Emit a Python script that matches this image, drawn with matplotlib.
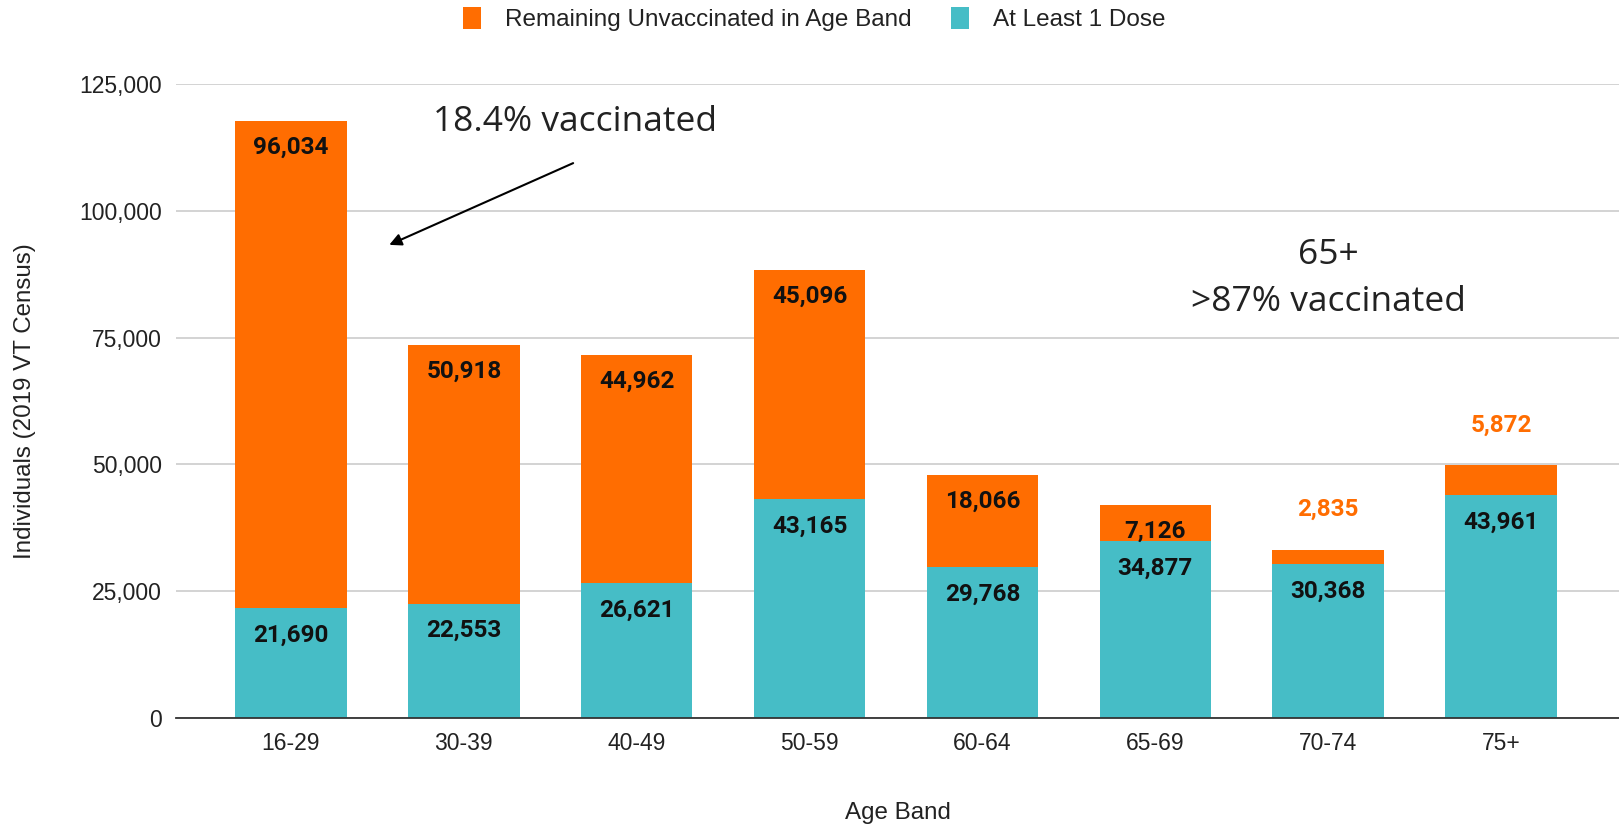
#!/usr/bin/env python3
"""Vaccination status by age band (stacked bars)."""
import numpy as np
import matplotlib.pyplot as plt
from matplotlib.ticker import FuncFormatter

age_bands = ['16-29', '30-39', '40-49', '50-59', '60-64', '65-69', '70-74', '75+']
at_least_1_dose = [21690, 22553, 26621, 43165, 29768, 34877, 30368, 43961]
unvaccinated = [96034, 50918, 44962, 45096, 18066, 7126, 2835, 5872]
# bars whose orange segment is too thin for an inside label
outside_label = [False, False, False, False, False, False, True, True]

ORANGE = '#ff6d01'
TEAL = '#46bdc6'

fig = plt.figure(figsize=(16.19, 8.25), dpi=100)
ax = fig.add_axes([0.1087, 0.1297, 0.8913, 0.7685])

x = np.arange(len(age_bands))
w = 0.645
teal_bars = ax.bar(x, at_least_1_dose, width=w, color=TEAL, label='At Least 1 Dose', zorder=2)
orange_bars = ax.bar(x, unvaccinated, width=w, bottom=at_least_1_dose, color=ORANGE,
                     label='Remaining Unvaccinated in Age Band', zorder=2)

lab_font = dict(family=['Roboto', 'DejaVu Sans'], fontsize=17.5, fontweight='bold')
for i in range(len(age_bands)):
    ax.annotate(f'{at_least_1_dose[i]:,}', (x[i], at_least_1_dose[i]), xytext=(0, -19.5),
                textcoords='offset points', ha='center', va='center', color='#111111', **lab_font)
    top = at_least_1_dose[i] + unvaccinated[i]
    if outside_label[i]:
        ax.annotate(f'{unvaccinated[i]:,}', (x[i], top), xytext=(0, 29),
                    textcoords='offset points', ha='center', va='center', color=ORANGE, **lab_font)
    else:
        ax.annotate(f'{unvaccinated[i]:,}', (x[i], top), xytext=(0, -19),
                    textcoords='offset points', ha='center', va='center', color='#111111', **lab_font)

ax.set_xlim(-0.665, 7.682)
ax.set_ylim(0, 125000)
ax.set_yticks([0, 25000, 50000, 75000, 100000, 125000])
ax.yaxis.set_major_formatter(FuncFormatter(lambda v, p: f'{int(v):,}'))
ax.grid(axis='y', color='#cccccc', linewidth=1.2, zorder=0)
for s in ['top', 'right', 'left']:
    ax.spines[s].set_visible(False)
ax.spines['bottom'].set_color('#333333')
ax.spines['bottom'].set_linewidth(1.3)
ax.spines['bottom'].set_zorder(3)
ax.set_xticks(x)
ax.set_xticklabels(age_bands)
tick_font = ['Liberation Sans', 'DejaVu Sans']
for t in ax.get_xticklabels() + ax.get_yticklabels():
    t.set_family(tick_font)
    t.set_fontsize(16.5)
    t.set_color('#222222')
ax.tick_params(axis='both', length=0)
ax.tick_params(axis='x', pad=10)
ax.tick_params(axis='y', pad=10)

ax.set_xlabel('Age Band', family=tick_font, fontsize=17.4, color='#222222', labelpad=34)
ax.set_ylabel('Individuals (2019 VT Census)', family=tick_font, fontsize=17.4, color='#222222', labelpad=31.5)

# annotations
note_font = dict(family=['Open Sans', 'DejaVu Sans'], fontsize=25.5, color='#222222')
ax.text(1.641, 117500, '18.4% vaccinated', ha='center', va='center', **note_font)
ax.annotate('', xy=(0.554, 93060), xytext=(1.647, 109620),
            arrowprops=dict(arrowstyle='-|>', color='black', lw=1.5, mutation_scale=18))
ax.text(6.0, 91290, '65+', ha='center', va='center', **note_font)
ax.text(6.0, 82020, '>87% vaccinated', ha='center', va='center', **note_font)

handles = [orange_bars, teal_bars]
leg = fig.legend(handles, [h.get_label() for h in handles], loc='center', bbox_to_anchor=(0.503, 0.977),
                 ncol=2, frameon=False, prop={'family': tick_font, 'size': 17.5},
                 handlelength=0.75, handleheight=1.0, columnspacing=1.6, handletextpad=1.0)
for t in leg.get_texts():
    t.set_color('#222222')

fig.savefig('out.png', dpi=100)
